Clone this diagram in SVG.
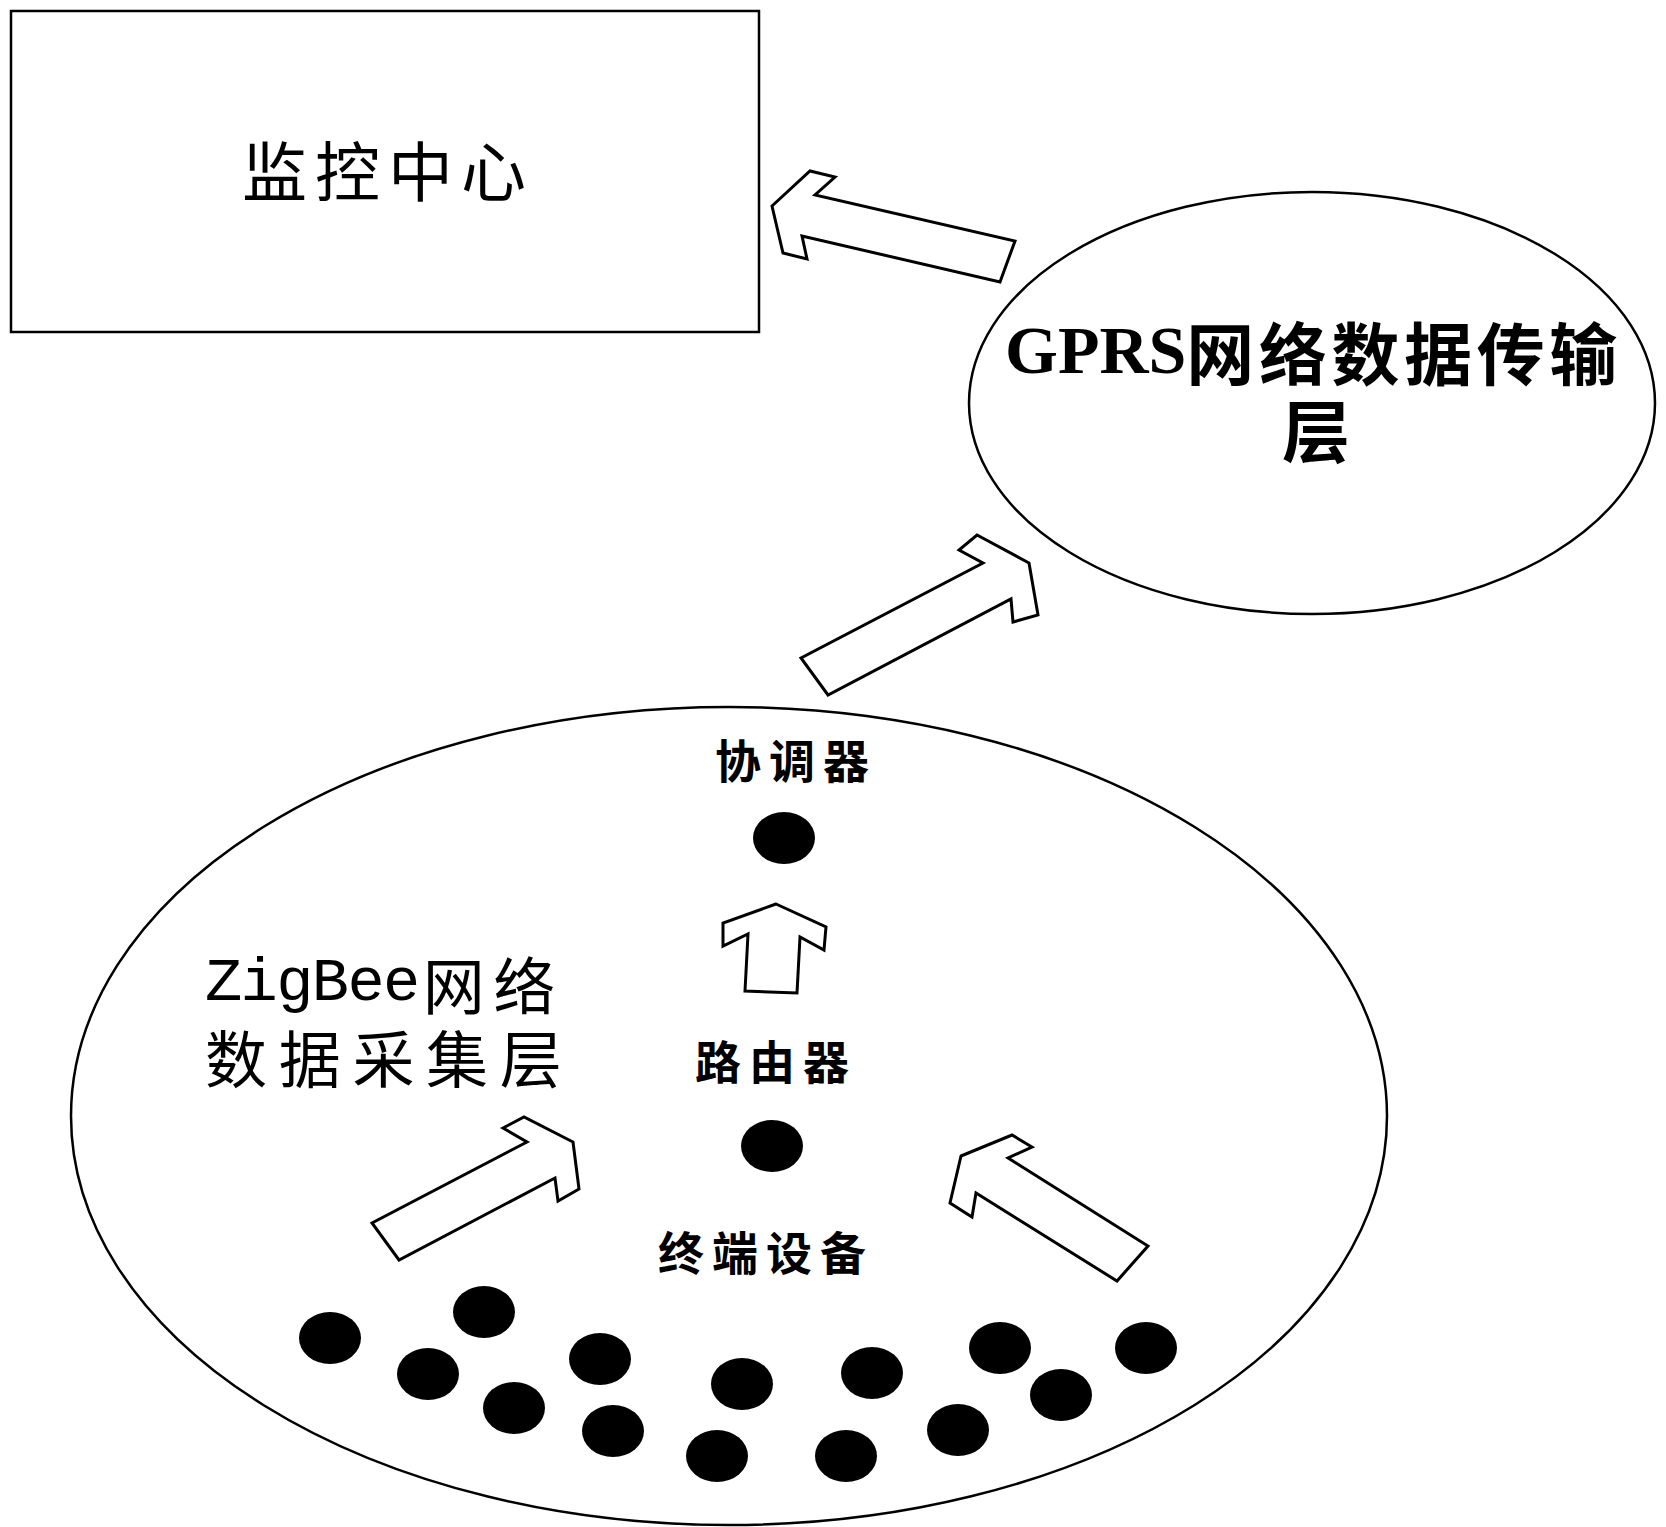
<svg xmlns="http://www.w3.org/2000/svg" width="1666" height="1527" viewBox="0 0 1666 1527">
<style>
.shape{fill:#fff;stroke:#000;stroke-width:2.5}
.arrow{fill:#fff;stroke:#000;stroke-width:3;stroke-linejoin:miter}
.dot{fill:#000}
.cjk{font-family:"Noto Sans CJK SC","Liberation Serif",serif;fill:#000}
.lbl{font-size:46px;font-weight:bold;text-anchor:middle;dominant-baseline:central}
tspan{dominant-baseline:central}
</style>
<rect width="1666" height="1527" fill="#fff"/>
<g id="monitor-center">
<rect class="shape" x="11" y="11" width="748" height="321"/>
<text class="cjk" x="388" y="168" font-size="65" text-anchor="middle" dominant-baseline="central" letter-spacing="8">监控中心</text>
</g>
<g id="gprs-layer">
<ellipse class="shape" cx="1312" cy="403" rx="343" ry="211"/>
<text class="cjk" font-size="68" font-weight="bold" dominant-baseline="central"><tspan x="1005" y="350" font-family="'Liberation Serif',serif">GPRS</tspan><tspan letter-spacing="4.6">网络数据传输</tspan><tspan x="1282" y="427">层</tspan></text>
</g>
<g id="zigbee-layer">
<ellipse class="shape" cx="729" cy="1116" rx="658" ry="409"/>
<text class="cjk" font-size="62" dominant-baseline="central"><tspan x="205" y="983" font-family="'Liberation Mono',monospace" letter-spacing="-1.6">ZigBee</tspan><tspan dx="4" letter-spacing="8.5">网络</tspan><tspan x="205" y="1056" letter-spacing="11.7">数据采集层</tspan></text>
</g>
<g id="coordinator">
<text class="cjk lbl" x="796" y="758" letter-spacing="8">协调器</text>
<ellipse class="dot" cx="784" cy="838" rx="31" ry="26"/>
</g>
<g id="router">
<text class="cjk lbl" x="776" y="1059" letter-spacing="8">路由器</text>
<ellipse class="dot" cx="772" cy="1146" rx="31" ry="26"/>
</g>
<g id="end-devices">
<text class="cjk lbl" x="766" y="1250" letter-spacing="8">终端设备</text>
<ellipse class="dot" cx="330" cy="1338" rx="31" ry="26"/>
<ellipse class="dot" cx="484" cy="1312" rx="31" ry="26"/>
<ellipse class="dot" cx="428" cy="1374" rx="31" ry="26"/>
<ellipse class="dot" cx="514" cy="1408" rx="31" ry="26"/>
<ellipse class="dot" cx="600" cy="1359" rx="31" ry="26"/>
<ellipse class="dot" cx="613" cy="1431" rx="31" ry="26"/>
<ellipse class="dot" cx="742" cy="1384" rx="31" ry="26"/>
<ellipse class="dot" cx="717" cy="1456" rx="31" ry="26"/>
<ellipse class="dot" cx="872" cy="1373" rx="31" ry="26"/>
<ellipse class="dot" cx="846" cy="1456" rx="31" ry="26"/>
<ellipse class="dot" cx="958" cy="1430" rx="31" ry="26"/>
<ellipse class="dot" cx="1000" cy="1348" rx="31" ry="26"/>
<ellipse class="dot" cx="1061" cy="1395" rx="31" ry="26"/>
<ellipse class="dot" cx="1146" cy="1348" rx="31" ry="26"/>
</g>
<g id="connectors">
<polygon class="arrow" points="772,206 810,171 835,177 815,195 1015,241 1000,282 802,236 807,259 783,253"/>
<polygon class="arrow" points="1029,563 977,535 959,550 983,563 801,658 828,695 1011,599 1013,622 1038,615"/>
<polygon class="arrow" points="776,904 723,923 723,946 748,934 745,991 797,993 800,937 824,950 826,927"/>
<polygon class="arrow" points="573,1142 524,1117 503,1128 527,1142 372,1223 399,1260 555,1178 558,1201 579,1189"/>
<polygon class="arrow" points="961,1156 1012,1135 1032,1147 1008,1158 1148,1246 1117,1281 976,1193 972,1217 950,1203"/>
</g>
</svg>
